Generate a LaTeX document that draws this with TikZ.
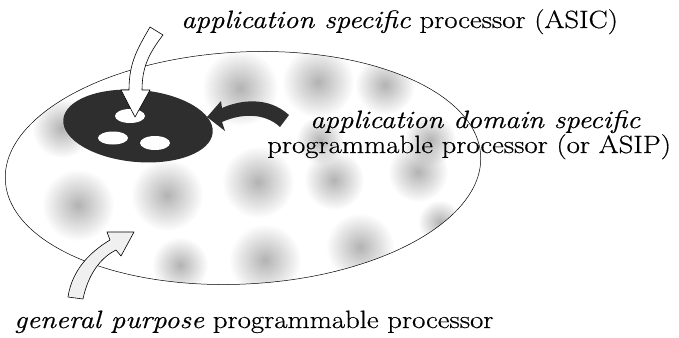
\documentclass[tikz,border=0pt]{standalone}
\usepackage{fontspec}
\setmainfont{Latin Modern Roman}[FakeStretch=1.15, FakeBold=0.6]
\usetikzlibrary{fadings}
\tikzfading[name=blobfade, inner color=transparent!25, outer color=transparent!100]

\begin{document}
\begin{tikzpicture}[x=1pt, y=-1pt,
    labeltext/.style={inner sep=0pt, font=\fontsize{25}{25}\selectfont},
    outline/.style={draw=black, line width=0.6pt, line join=round},
    darkfill/.style={fill=black!82},
    hole/.style={fill=white}]
  \useasboundingbox (0,0) rectangle (679,337);
  %%%%% START %%%%%

  % the plate and its grey texture
  \begin{scope}
    \clip[rotate around={3:(243,168)}] (243,168) ellipse [x radius=238, y radius=116];
    \foreach \bx/\by/\br in {62/128/30, 240/88/38, 318/82/36, 385/85/30,
        258/182/36, 334/180/30, 418/172/30, 78/205/36, 167/195/36,
        265/260/36, 180/265/28, 360/247/34, 440/222/22, 430/140/26, 320/140/24}
      \fill[black!40, path fading=blobfade] (\bx,\by) circle (\br);
  \end{scope}
  \draw[outline, line width=0.5pt, rotate around={3:(243,168)}] (243,168) ellipse [x radius=238, y radius=116];

  % the dark ASIC region with its three holes
  \fill[darkfill, rotate around={-5:(138,126)}] (138,126) ellipse [x radius=75, y radius=36];
  \fill[hole] (130,116) ellipse [x radius=15, y radius=7];
  \fill[hole] (113,138) ellipse [x radius=15, y radius=6.5];
  \fill[hole] (155,143) ellipse [x radius=15, y radius=7];

  % arrow into the top hole
  \filldraw[outline, fill=white] (150,27) .. controls (138,48) and (129,62) .. (129,90)
    -- (121,90) -- (135,117) -- (150,90) -- (142,90)
    .. controls (142,66) and (150,52) .. (163,35) -- cycle;

  % dark arrow onto the ASIC region
  \fill[darkfill] (222,108) .. controls (240,100) and (268,96) .. (289,115)
    -- (280,127) .. controls (265,113) and (242,113) .. (222,122)
    -- (225,131) -- (207,117) -- (221,101) -- cycle;

  % arrow into the plate from below
  \filldraw[outline, fill=black!6] (68,297) .. controls (72,270) and (90,252) .. (110,240)
    -- (107,232) -- (134,232) -- (121,256) -- (116,250)
    .. controls (100,258) and (88,275) .. (83,299) -- cycle;

  % labels
  \node[labeltext, anchor=base west] (asic) at (181,28)
    {\textit{application specific} processor (ASIC)};
  \node[labeltext, anchor=base west] (asipa) at (310,128)
    {\textit{application domain specific}};
  \node[labeltext, anchor=base west] (asipb) at (267,153)
    {programmable processor (or ASIP)};
  \node[labeltext, anchor=base west] (gpp) at (14,328)
    {\textit{general purpose} programmable processor};

  %%%%% END %%%%%
\end{tikzpicture}
\end{document}
